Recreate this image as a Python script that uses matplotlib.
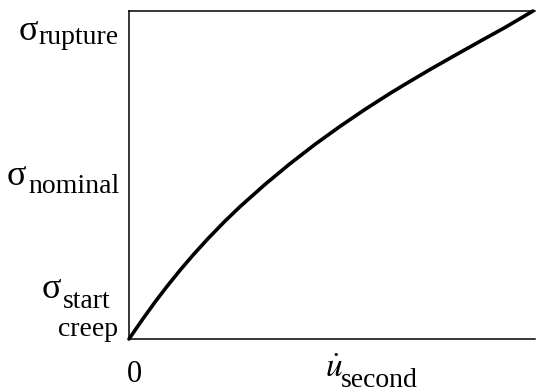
import matplotlib
matplotlib.use("Agg")
import matplotlib.pyplot as plt

# curve (axes units, 0..1 on both axes)
strain_rate = [0.0, 0.0345, 0.0640, 0.0936, 0.1256, 0.1576, 0.1946, 0.2365,
               0.2734, 0.3350, 0.3966, 0.4581, 0.5197, 0.5813, 0.6429, 0.6798,
               0.7414, 0.8030, 0.8645, 0.9261, 0.9951]
stress = [0.0, 0.0619, 0.1125, 0.1604, 0.2095, 0.2558, 0.3061, 0.3595,
          0.4034, 0.4713, 0.5345, 0.5933, 0.6482, 0.7000, 0.7488, 0.7765,
          0.8216, 0.8649, 0.9076, 0.9497, 1.0]

# (subscript, glyph left px, glyph baseline px, sub left px, sub baseline px)
y_labels = [
    ("rupture", 19, 40, 38, 44),
    ("nominal", 7, 185, 28, 193),
    ("start", 42, 298, 63, 308),
]

W, H = 536, 392
fig = plt.figure(figsize=(W / 100, H / 100), dpi=100)
ax = fig.add_axes([129 / W, 1 - 339 / H, 406 / W, 328 / H])

ax.plot(strain_rate, stress, color="black", lw=2.6,
        solid_joinstyle="round", solid_capstyle="round", clip_on=False)
ax.set_xlim(0, 1)
ax.set_ylim(0, 1)
ax.set_xticks([])
ax.set_yticks([])
ax.spines["right"].set_visible(False)
for s in ("left", "top", "bottom"):
    ax.spines[s].set_linewidth(1.1)

serif = "Liberation Serif"


def px(x, y):
    return x / W, 1 - y / H


for sub, gx, gy, sx, sy in y_labels:
    fig.text(*px(gx, gy), "σ", family=serif, fontsize=26, va="baseline")
    fig.text(*px(sx, sy), sub, family=serif, fontsize=20, va="baseline")
fig.text(*px(58, 336), "creep", family=serif, fontsize=20, va="baseline")

fig.text(*px(127, 382), "0", family=serif, fontsize=22, va="baseline")
fig.text(*px(325, 377), r"$\dot{u}$", math_fontfamily="stix", fontsize=24, va="baseline")
fig.text(*px(341, 387), "second", family=serif, fontsize=20, va="baseline")

fig.savefig("out.png", dpi=100)
